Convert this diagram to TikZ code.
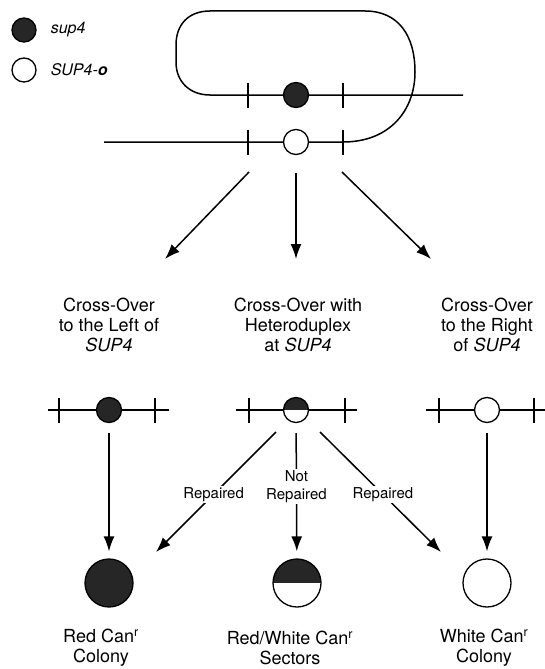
\documentclass[tikz,border=0pt]{standalone}
\usepackage{fontspec}
\setmainfont{TeX Gyre Heros}
\usetikzlibrary{arrows.meta}

\begin{document}
\begin{tikzpicture}[x=1pt,y=-1pt,>={Latex[length=15pt,width=11pt]},line width=1.5pt,
		dot/.style={circle,draw,inner sep=0pt,minimum size=25pt,line width=1.3pt},
		reddot/.style={dot,fill=black!85},
		whitedot/.style={dot,fill=white},
		halfdot/.style={dot,fill=white,path picture={\fill[black!85] (path picture bounding box.west) rectangle (path picture bounding box.north east);}},
		colony/.style={minimum size=48pt},
		title/.style={align=center,font=\fontsize{18}{20}\selectfont},
		lbl/.style={fill=white,inner sep=1.5pt,align=center,font=\fontsize{15}{18}\selectfont}]
	\path[use as bounding box,fill=white] (0,0) rectangle (545,669);
	% legend
	\node[reddot,minimum size=24pt] (kred) at (24,30) {};
	\node[whitedot,minimum size=24pt] (kwhite) at (24,70) {};
	\node[anchor=west,inner sep=0pt,font=\fontsize{16}{19}\selectfont\itshape] (kredtxt) at (50,30) {sup4};
	\node[anchor=west,inner sep=0pt,font=\fontsize{16}{19}\selectfont\itshape] (kwhitetxt) at (50,70) {SUP4-\textbf{o}};
	% the two chromosomes
	\draw (104,142) -- (343,142) .. controls (390,142) and (415,110) .. (415,72)
		.. controls (415,35) and (398,11) .. (365,11) -- (210,11)
		.. controls (188,11) and (176,25) .. (176,45) -- (176,62)
		.. controls (176,82) and (190,95) .. (210,95) -- (463,95);
	\foreach \x/\y in {248/95,343/95,248/142,343/142,59/410,155/410,249/410,345/410,439/410,534/410}
		\draw (\x,\y-12.5) -- (\x,\y+12.5);
	\node[reddot] (top) at (296,95) {};
	\node[whitedot] (bot) at (296,142) {};
	% the three cross-overs
	\coordinate (bL) at (165,259);
	\coordinate (bM) at (296,259);
	\coordinate (bR) at (431,259);
	\draw[->] (249,172) -- (bL);
	\draw[->,shorten <=17.5pt] (bot) -- (bM);
	\draw[->] (342,172) -- (bR);
	\node[title] (tL) at (109,325) {Cross-Over\\to the Left of\\\itshape SUP4};
	\node[title] (tM) at (298,325) {Cross-Over with\\Heteroduplex\\at \itshape SUP4};
	\node[title] (tR) at (487,325) {Cross-Over\\to the Right\\of \itshape SUP4};
	% products
	\draw (48,410) -- (169,410);
	\draw (236,410) -- (357,410);
	\draw (426,410) -- (545,410);
	\node[reddot] (mL) at (109,410) {};
	\node[halfdot] (mM) at (296,410) {};
	\node[whitedot] (mR) at (487,410) {};
	\node[reddot,colony] (cL) at (109,583) {};
	\node[halfdot,colony] (cM) at (297,583) {};
	\node[whitedot,colony] (cR) at (487,583) {};
	\coordinate (dL1) at (276,432);
	\coordinate (dL2) at (156,552);
	\coordinate (dR1) at (320,432);
	\coordinate (dR2) at (441,552);
	\draw[->,shorten <=10pt,shorten >=7pt] (mL) -- (cL);
	\draw[->,shorten <=10pt,shorten >=7pt] (mM) -- node[lbl,pos=0.47] {Not\\Repaired} (cM);
	\draw[->,shorten <=10pt,shorten >=7pt] (mR) -- (cR);
	\draw[->] (dL1) -- node[lbl,pos=0.52] {Repaired} (dL2);
	\draw[->] (dR1) -- node[lbl,pos=0.52] {Repaired} (dR2);
	\node[title] (rL) at (101,648) {Red Can\textsuperscript{r}\\Colony};
	\node[title] (rM) at (290,648) {Red/White Can\textsuperscript{r}\\Sectors};
	\node[title] (rR) at (484,648) {White Can\textsuperscript{r}\\Colony};
\end{tikzpicture}
\end{document}
